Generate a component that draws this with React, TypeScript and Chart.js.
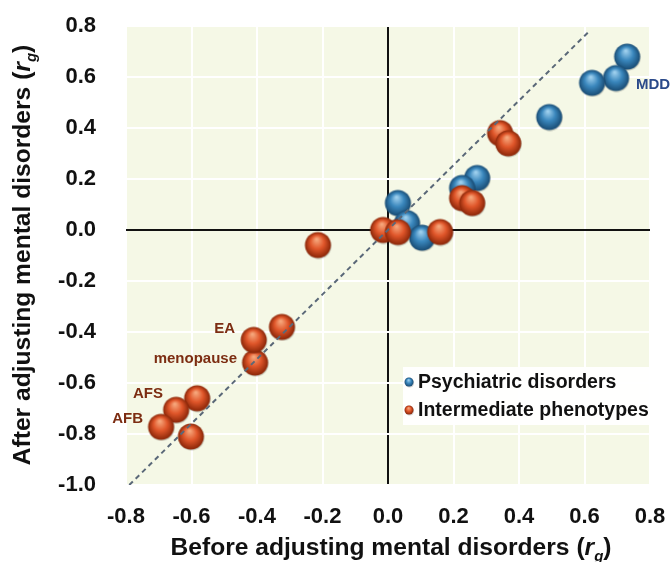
import React, { useEffect, useRef } from "react";
import { Chart, registerables } from "chart.js";

Chart.register(...registerables);

const psychX = [0.73, 0.696, 0.623, 0.492, 0.272, 0.226, 0.03, 0.058, 0.104];
const psychY = [0.68, 0.596, 0.577, 0.443, 0.204, 0.165, 0.106, 0.027, -0.03];

const interX = [-0.583, -0.647, -0.693, -0.602, -0.324, -0.406, -0.41, -0.214, -0.015, 0.03, 0.159, 0.226, 0.257, 0.342, 0.367];
const interY = [-0.66, -0.705, -0.772, -0.81, -0.38, -0.52, -0.431, -0.059, 0.0, -0.008, -0.008, 0.125, 0.106, 0.38, 0.34];

const diagX = [-0.79, 0.615];
const diagY = [-1.0, 0.78];

const xTicks = [-0.8, -0.6, -0.4, -0.2, 0.0, 0.2, 0.4, 0.6, 0.8];
const yTicks = [0.8, 0.6, 0.4, 0.2, 0.0, -0.2, -0.4, -0.6, -0.8, -1.0];

const seriesNames = ["Psychiatric disorders", "Intermediate phenotypes"];
const xTitle = "Before adjusting mental disorders";
const yTitle = "After adjusting mental disorders";

const noteText = ["MDD", "EA", "menopause", "AFS", "AFB"];
const noteX = [0.757, -0.467, -0.461, -0.687, -0.748];
const noteY = [0.569, -0.388, -0.506, -0.643, -0.741];
const noteGroup = [0, 1, 1, 1, 1];

function sphere(r: number, light: string, base: string, dark: string) {
  const c = document.createElement("canvas");
  const size = Math.ceil(r * 2 + 3);
  c.width = size;
  c.height = size;
  const g = c.getContext("2d")!;
  const cx = size / 2;
  const cy = size / 2;
  g.beginPath();
  g.arc(cx + 0.6, cy + 1, r, 0, Math.PI * 2);
  g.fillStyle = "rgba(0,0,0,0.18)";
  g.fill();
  const grad = g.createRadialGradient(cx - r * 0.1, cy - r * 0.45, r * 0.05, cx, cy, r);
  grad.addColorStop(0, light);
  grad.addColorStop(0.5, base);
  grad.addColorStop(1, dark);
  g.beginPath();
  g.arc(cx, cy, r, 0, Math.PI * 2);
  g.fillStyle = grad;
  g.fill();
  return c;
}

const FONT = '"Liberation Sans", Arial, sans-serif';

export default function App() {
  const ref = useRef<HTMLCanvasElement>(null);
  useEffect(() => {
    const blueBig = sphere(13, "#9fd0ee", "#3a87bd", "#194c74");
    const orangeBig = sphere(13, "#f6a77c", "#e0562a", "#8a2608");
    const blueSmall = sphere(4.5, "#9fd0ee", "#3a87bd", "#194c74");
    const orangeSmall = sphere(4.5, "#f6a77c", "#e0562a", "#8a2608");
    const smalls = [blueSmall, orangeSmall];

    const bgPlugin = {
      id: "bg",
      beforeDraw(chart: any) {
        const { ctx, chartArea: a } = chart;
        ctx.save();
        ctx.fillStyle = "#f5f8e6";
        ctx.fillRect(a.left, a.top, a.right - a.left, a.bottom - a.top);
        ctx.restore();
      },
    };

    const drawRich = (ctx: CanvasRenderingContext2D, main: string, size: number) => {
      const parts = [
        { t: main + " (", f: `bold ${size}px ${FONT}`, dy: 0 },
        { t: "r", f: `italic bold ${size}px ${FONT}`, dy: 0 },
        { t: "g", f: `italic bold ${Math.round(size * 0.62)}px ${FONT}`, dy: 6 },
        { t: ")", f: `bold ${size}px ${FONT}`, dy: 0 },
      ];
      let w = 0;
      for (const p of parts) {
        ctx.font = p.f;
        w += ctx.measureText(p.t).width;
      }
      let x = -w / 2;
      for (const p of parts) {
        ctx.font = p.f;
        ctx.fillText(p.t, x, p.dy);
        x += ctx.measureText(p.t).width;
      }
    };

    const overlay = {
      id: "overlay",
      afterDraw(chart: any) {
        const { ctx, scales } = chart;
        const xs = scales.x;
        const ys = scales.y;
        ctx.save();
        ctx.textBaseline = "middle";
        ctx.font = `bold 15px ${FONT}`;
        noteText.forEach((t, i) => {
          ctx.fillStyle = noteGroup[i] === 0 ? "#2b4a8a" : "#7c2d12";
          ctx.textAlign = noteGroup[i] === 0 ? "left" : "right";
          ctx.fillText(t, xs.getPixelForValue(noteX[i]), ys.getPixelForValue(noteY[i]));
        });
        const a = chart.chartArea;
        const bx = 403, by = 367, bw = a.right - 403, bh = 58;
        ctx.fillStyle = "rgba(255,255,255,0.95)";
        ctx.fillRect(bx, by, bw, bh);
        ctx.font = `bold 19.5px ${FONT}`;
        ctx.textAlign = "left";
        seriesNames.forEach((n, i) => {
          const yy = by + 15 + i * 28;
          const s = smalls[i];
          ctx.drawImage(s, 409 - s.width / 2, yy - s.height / 2);
          ctx.fillStyle = "#111";
          ctx.fillText(n, 418, yy + 1);
        });
        ctx.fillStyle = "#111";
        ctx.textAlign = "left";
        ctx.textBaseline = "alphabetic";
        ctx.save();
        ctx.translate(391, 555);
        drawRich(ctx, xTitle, 24.6);
        ctx.restore();
        ctx.save();
        ctx.translate(30, 255);
        ctx.rotate(-Math.PI / 2);
        drawRich(ctx, yTitle, 24.6);
        ctx.restore();
        ctx.restore();
      },
    };

    const fmt = (v: number) => (Math.abs(v) < 1e-9 ? "0.0" : v.toFixed(1));
    const gridColor = (c: any) => (c.tick && Math.abs(c.tick.value) < 1e-9 ? "#111" : "#ffffff");

    const chart = new Chart(ref.current!, {
      type: "scatter",
      data: {
        datasets: [
          {
            type: "line",
            label: "diag",
            data: diagX.map((x, i) => ({ x, y: diagY[i] })),
            borderColor: "#5a6878",
            borderWidth: 2,
            borderDash: [5, 4],
            pointRadius: 0,
            showLine: true,
            fill: false,
            order: 0,
          } as any,
          {
            label: seriesNames[1],
            data: interX.map((x, i) => ({ x, y: interY[i] })),
            pointStyle: orangeBig as any,
            pointRadius: 13,
            order: 1,
          },
          {
            label: seriesNames[0],
            data: psychX.map((x, i) => ({ x, y: psychY[i] })),
            pointStyle: blueBig as any,
            pointRadius: 13,
            order: 2,
          },
        ],
      },
      options: {
        animation: false,
        responsive: true,
        maintainAspectRatio: false,
        layout: { autoPadding: false, padding: { top: 26, right: 21, left: 0, bottom: 0 } },
        plugins: { legend: { display: false }, tooltip: { enabled: false } },
        scales: {
          x: {
            type: "linear",
            min: -0.8,
            max: 0.8,
            afterBuildTicks: (s: any) => {
              s.ticks = xTicks.map((v) => ({ value: v }));
            },
            afterFit: (s: any) => {
              s.height = 77;
            },
            ticks: {
              callback: (v: any) => fmt(Number(v)),
              color: "#111",
              font: { family: FONT, size: 22, weight: "bold" },
              padding: 0,
              maxRotation: 0,
            },
            grid: {
              color: gridColor,
              lineWidth: 2,
              drawTicks: true,
              tickLength: 19,
              tickColor: "rgba(0,0,0,0)",
            },
            border: { display: false },
          },
          y: {
            type: "linear",
            min: -1.0,
            max: 0.8,
            afterBuildTicks: (s: any) => {
              s.ticks = yTicks.map((v) => ({ value: v }));
            },
            afterFit: (s: any) => {
              s.width = 126;
            },
            ticks: {
              callback: (v: any) => fmt(Number(v)),
              color: "#111",
              font: { family: FONT, size: 22, weight: "bold" },
              padding: 0,
            },
            grid: {
              color: gridColor,
              lineWidth: 2,
              drawTicks: true,
              tickLength: 30,
              tickColor: "rgba(0,0,0,0)",
            },
            border: { display: false },
          },
        },
      },
      plugins: [bgPlugin, overlay],
    });
    return () => chart.destroy();
  }, []);
  return (
    <div style={{ position: "absolute", left: 0, top: 0, width: 671, height: 562, background: "#fff" }}>
      <canvas ref={ref} />
    </div>
  );
}
